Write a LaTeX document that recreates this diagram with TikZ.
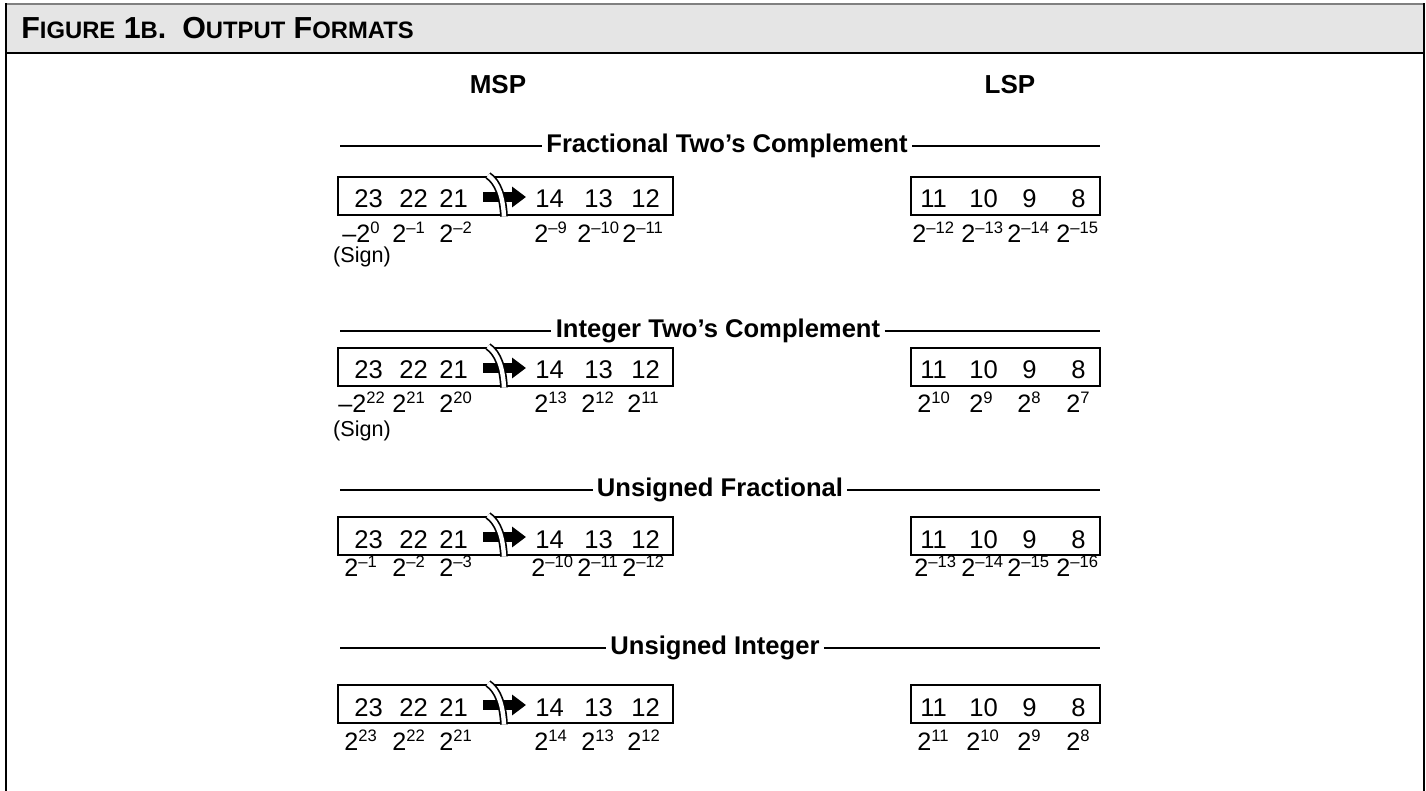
\documentclass[tikz,border=0pt]{standalone}
\usepackage{fontspec}
\setmainfont{Liberation Sans}
\usetikzlibrary{arrows.meta}
\definecolor{band}{gray}{0.9}
\newcommand\expo[2]{#1\raisebox{4.5pt}{\fontsize{8.3}{8.3}\selectfont #2}}
\newcommand\capA[1]{{\fontsize{15.2}{15.2}\selectfont #1}}
\newcommand\capB[1]{{\fontsize{11.9}{11.9}\selectfont #1}}
\tikzset{
  bit/.style={anchor=base west, inner sep=0pt, font=\fontsize{12.8}{12.8}\selectfont},
  weight/.style={anchor=base west, inner sep=0pt, font=\fontsize{12.6}{12.6}\selectfont},
  signnote/.style={anchor=base, inner sep=0pt, font=\fontsize{10.8}{10.8}\selectfont},
  colhead/.style={inner sep=0pt, font=\bfseries\fontsize{13}{13}\selectfont},
  fmtname/.style={inner sep=2pt, font=\bfseries\fontsize{12.8}{12.8}\selectfont},
  regbox/.style={draw, line width=1.1pt},
  brk/.style={draw=black, double=white, line width=0.85pt, double distance=2.2pt},
}
\begin{document}
\begin{tikzpicture}[x=0.5pt,y=-0.5pt]
  \useasboundingbox (0,0) rectangle (1426,791);
  % title band
  \fill[band] (6,4) rectangle (1424,53);
  \draw[gray, line width=1pt] (6,4) -- (1424,4);
  \draw[line width=1.4pt] (6,3.5) -- (6,791) (1424,3.5) -- (1424,791) (5,53) -- (1425,53);
  \node[anchor=base west, inner sep=0pt, font=\bfseries] (title) at (21,39)
    {\capA{F}\capB{IGURE}\capA{ 1}\capB{B}\capA{.}\hspace{8pt}\capA{O}\capB{UTPUT}\capA{ F}\capB{ORMATS}};
  % column heads
  \node[colhead] (msp) at (498,85) {MSP};
  \node[colhead] (lsp) at (1010,85) {LSP};
  % format names with rules
  \foreach \y/\x/\txt in {146/727/Fractional Two’s Complement, 331/718/Integer Two’s Complement,
                          490/720/Unsigned Fractional, 648/715/Unsigned Integer} {
    \node[fmtname] (fmt\y) at (\x,\y) {\txt};
    \draw[line width=0.7pt] (340,\y) -- (fmt\y.west);
    \draw[line width=0.7pt] (fmt\y.east) -- (1100,\y);
  }
  % registers
  \foreach \t [count=\r] in {177,348,517,685} {
    \draw[regbox] (338,\t) rectangle (673,\t+38);
    \draw[regbox] (911,\t) rectangle (1100,\t+38);
    \draw[line width=5pt, -{Triangle[length=7pt,width=10pt]}] (483,\t+20) -- (526,\t+20);
    \draw[brk] (488,\t-1.5) .. controls (498,\t+5) and (503,\t+20) .. (504,\t+39.5);
    \foreach \d/\x in {23/354,22/399,21/439,14/535,13/584,12/631,11/920,10/969,9/1022,8/1071}
      \node[bit] (b\r-\d) at (\x,\t+31) {\d};
  }
  % bit weights
  \foreach \x/\w [count=\i] in {342/{–\expo{2}{0}}, 392/{\expo{2}{–1}}, 439/{\expo{2}{–2}},
      534/{\expo{2}{–9}}, 577/{\expo{2}{–10}}, 622/{\expo{2}{–11}}, 912/{\expo{2}{–12}},
      961/{\expo{2}{–13}}, 1007/{\expo{2}{–14}}, 1056/{\expo{2}{–15}}}
    \node[weight] (wa\i) at (\x,243) {\w};
  \foreach \x/\w [count=\i] in {338/{–\expo{2}{22}}, 392/{\expo{2}{21}}, 439/{\expo{2}{20}},
      534/{\expo{2}{13}}, 581/{\expo{2}{12}}, 627/{\expo{2}{11}}, 917/{\expo{2}{10}},
      969/{\expo{2}{9}}, 1017/{\expo{2}{8}}, 1066/{\expo{2}{7}}}
    \node[weight] (wb\i) at (\x,413) {\w};
  \foreach \x/\w [count=\i] in {344/{\expo{2}{–1}}, 392/{\expo{2}{–2}}, 439/{\expo{2}{–3}},
      531/{\expo{2}{–10}}, 577/{\expo{2}{–11}}, 622/{\expo{2}{–12}}, 914/{\expo{2}{–13}},
      961/{\expo{2}{–14}}, 1007/{\expo{2}{–15}}, 1056/{\expo{2}{–16}}}
    \node[weight] (wc\i) at (\x,576) {\w};
  \foreach \x/\w [count=\i] in {344/{\expo{2}{23}}, 392/{\expo{2}{22}}, 439/{\expo{2}{21}},
      534/{\expo{2}{14}}, 581/{\expo{2}{13}}, 627/{\expo{2}{12}}, 917/{\expo{2}{11}},
      966/{\expo{2}{10}}, 1017/{\expo{2}{9}}, 1066/{\expo{2}{8}}}
    \node[weight] (wd\i) at (\x,750) {\w};
  \node[signnote] (signa) at (362,263) {(Sign)};
  \node[signnote] (signb) at (362,437) {(Sign)};
\end{tikzpicture}
\end{document}
